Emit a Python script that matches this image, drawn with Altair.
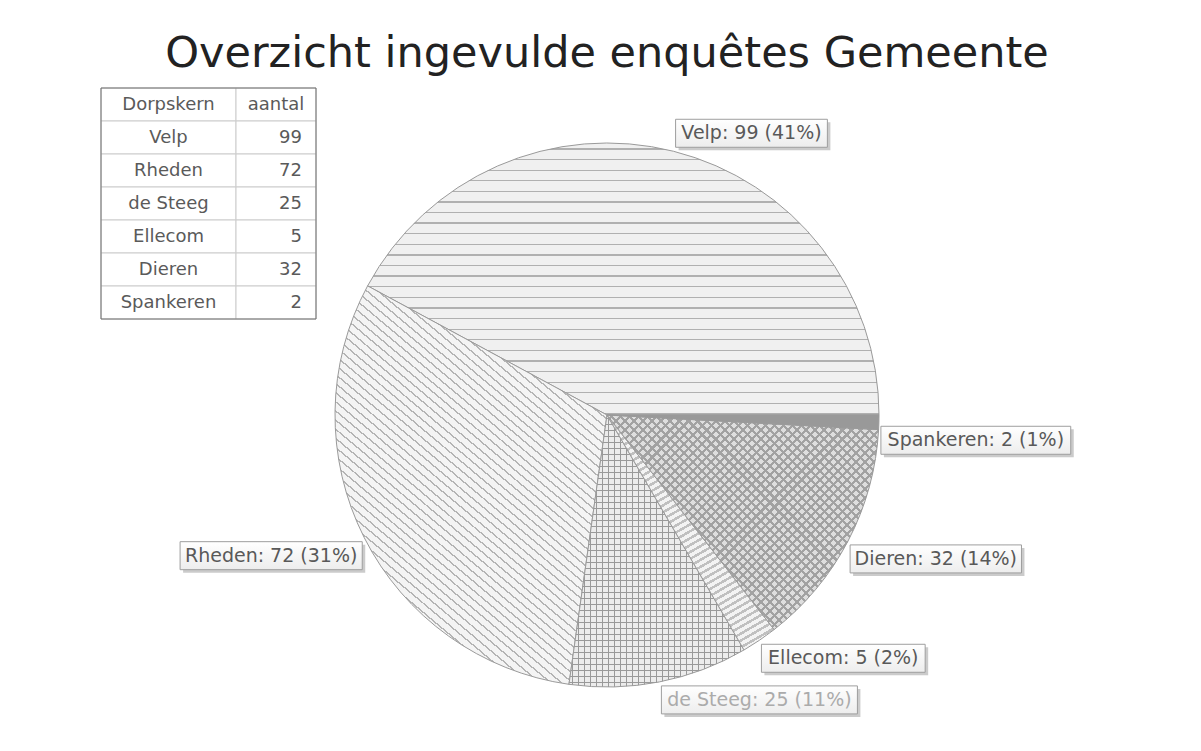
import math
import altair as alt
import pandas as pd

# ---------------- data ----------------
names = ["Velp", "Rheden", "de Steeg", "Ellecom", "Dieren", "Spankeren"]
values = [99, 72, 25, 5, 32, 2]
percents = [41, 31, 11, 2, 14, 1]
table_header = ["Dorpskern", "aantal"]
title_text = "Overzicht ingevulde enquêtes Gemeente"

# ---------------- layout ----------------
W, H = 1170, 654          # plot area (centre of the pie is its centre)
PAD_L, PAD_T = 14, 80
R = 272                   # pie radius in px
FONT = "DejaVu Sans"
LABEL_FS = 19
TABLE_FS = 18
# table geometry, in px relative to the pie centre (y up)
TL, TS, TR, TTOP, RH = -506, -371, -291, 327, 33

total = sum(values)
df = pd.DataFrame({"name": names, "value": values, "pct": percents,
                   "idx": list(range(len(names)))})

xs = alt.Scale(domain=[-W / 2, W / 2], nice=False, zero=False)
ys = alt.Scale(domain=[-H / 2, H / 2], nice=False, zero=False)
theta_scale = alt.Scale(domain=[0, total], range=[math.pi / 2, math.pi / 2 - 2 * math.pi])


# ------------- hatch patterns as striped gradients -------------
def sector_bbox(a0, a1):
    pts = [(0.0, 0.0), (R * math.cos(a0), -R * math.sin(a0)), (R * math.cos(a1), -R * math.sin(a1))]
    for k in range(5):
        a = k * math.pi / 2
        if a0 < a < a1:
            pts.append((R * math.cos(a), -R * math.sin(a)))
    xs_ = [p[0] for p in pts]
    ys_ = [p[1] for p in pts]
    return max(xs_) - min(xs_), max(ys_) - min(ys_)


def stripes(w, h, line_angle, spacing, lw, fg, bg):
    t = math.radians(line_angle)
    nx, ny = -math.sin(t), math.cos(t)
    S = abs(nx) * w + abs(ny) * h
    k = S / (nx * nx * w * w + ny * ny * h * h)
    u1 = 0.0 if nx >= 0 else 1.0
    v1 = 0.0 if ny >= 0 else 1.0
    stops = [{"offset": 0, "color": bg}]
    j = 0
    while True:
        a = (j * spacing + spacing / 2) / S
        b = a + lw / S
        if b >= 1:
            break
        stops += [{"offset": round(a, 5), "color": bg}, {"offset": round(a, 5), "color": fg},
                  {"offset": round(b, 5), "color": fg}, {"offset": round(b, 5), "color": bg}]
        j += 1
    stops.append({"offset": 1, "color": bg})
    return {"gradient": "linear", "x1": u1, "y1": v1,
            "x2": u1 + k * nx * w, "y2": v1 + k * ny * h, "stops": stops}


cum = 0
bbox = {}
for n, v in zip(names, values):
    a0 = 2 * math.pi * cum / total
    cum += v
    a1 = 2 * math.pi * cum / total
    bbox[n] = sector_bbox(a0, a1)

CLEAR = "rgba(255,255,255,0)"
patterns = {
    "Velp": [stripes(*bbox["Velp"], 0, 10.6, 1.3, "#b0b0b0", "#f0f0f0")],
    "Rheden": [stripes(*bbox["Rheden"], 40, 7, 1.4, "#b4b4b4", "#f4f4f4")],
    "de Steeg": [stripes(*bbox["de Steeg"], 0, 6, 1.1, "#999999", "#ececec"),
                 stripes(*bbox["de Steeg"], 90, 6, 1.1, "#999999", CLEAR)],
    "Ellecom": [stripes(*bbox["Ellecom"], -30, 6, 2.5, "#c0c0c0", "#f3f3f3")],
    "Dieren": [stripes(*bbox["Dieren"], 45, 6.4, 2.2, "#a2a2a2", "#dedede"),
               stripes(*bbox["Dieren"], -45, 6.4, 2.2, "#a2a2a2", CLEAR)],
    "Spankeren": ["#999999"],
}

slices = alt.Chart(df).transform_window(
    cum="sum(value)", sort=[alt.SortField("idx")], frame=[None, 0]
).transform_calculate(start="datum.cum - datum.value")

arc_layers = []
for n in names:
    for i, fill in enumerate(patterns[n]):
        kw = dict(radius=R, fill=fill)
        if i == len(patterns[n]) - 1:
            kw.update(stroke="#9a9a9a", strokeWidth=1)
        arc_layers.append(
            slices.transform_filter(alt.datum.name == n).mark_arc(**kw).encode(
                theta=alt.Theta("start:Q", scale=theta_scale),
                theta2="cum:Q",
            )
        )


# ---------------- slice labels ----------------
def cnt(p):
    return f"(length(datum.label) - length(replace(datum.label, regexp('{p}', 'g'), '')))"


tw = (f"{LABEL_FS}*(0.625*length(datum.label) - 0.347*{cnt('[il]')} - 0.30*{cnt('[: ]')}"
      f" - 0.235*{cnt('[()]')} + 0.325*{cnt('%')} - 0.22*{cnt('[tr]')} + 0.35*{cnt('m')})")

labels = alt.Chart(df).transform_window(
    cum="sum(value)", sort=[alt.SortField("idx")], frame=[None, 0]
).transform_joinaggregate(total="sum(value)").transform_calculate(
    label="datum.name + ': ' + datum.value + ' (' + datum.pct + '%)'",
    mid="2*PI*(datum.cum - datum.value/2)/datum.total",
    ax=f"{R}*cos(datum.mid)",
    ay=f"{R}*sin(datum.mid)",
    sx="cos(datum.mid) < 0 ? -1 : 1",
    sy="sin(datum.mid) < 0 ? -1 : 1",
    tw=tw,
    bx1="datum.ax + datum.sx*2",
    bx2="datum.bx1 + datum.sx*(datum.tw + 12)",
    by1="datum.ay + datum.sy*4",
    by2="datum.by1 + datum.sy*28",
    tx="(datum.bx1 + datum.bx2)/2",
    ty="(datum.by1 + datum.by2)/2",
)

box_enc = dict(
    x=alt.X("bx1:Q", scale=xs, axis=None), x2="bx2:Q",
    y=alt.Y("by1:Q", scale=ys, axis=None), y2="by2:Q",
)
shadow = labels.mark_rect(fill="#8c8c8c", opacity=0.45, xOffset=3, x2Offset=3,
                          yOffset=3, y2Offset=3).encode(**box_enc)
box_fill = {"gradient": "linear", "x1": 0, "y1": 0, "x2": 0, "y2": 1,
            "stops": [{"offset": 0, "color": "#ffffff"}, {"offset": 1, "color": "#ededed"}]}
box = labels.mark_rect(fill=box_fill, stroke="#9e9e9e", strokeWidth=1).encode(**box_enc)
label_text = labels.mark_text(font=FONT, fontSize=LABEL_FS, align="center", baseline="middle").encode(
    x=alt.X("tx:Q", scale=xs, axis=None),
    y=alt.Y("ty:Q", scale=ys, axis=None),
    text="label:N",
    color=alt.condition(alt.datum.name == "de Steeg", alt.value("#ababab"), alt.value("#595959")),
)

# ---------------- table ----------------
tdf = pd.DataFrame({
    "c1": [table_header[0]] + names,
    "c2": [table_header[1]] + [str(v) for v in values],
    "row": list(range(len(names) + 1)),
})
tbase = alt.Chart(tdf).transform_calculate(
    xl=str(TL), xm=str(TS), xr=str(TR),
    yt=f"{TTOP} - datum.row*{RH}",
    yb=f"{TTOP} - (datum.row + 1)*{RH}",
    ym=f"{TTOP} - (datum.row + 0.5)*{RH}",
    c1x=f"({TL} + {TS})/2",
    c2x=f"({TS} + {TR})/2",
    c2r=f"{TR} - 14",
)
cell1 = tbase.mark_rect(fill="white", stroke="#cccccc", strokeWidth=1).encode(
    x=alt.X("xl:Q", scale=xs, axis=None), x2="xm:Q",
    y=alt.Y("yt:Q", scale=ys, axis=None), y2="yb:Q")
cell2 = tbase.mark_rect(fill="white", stroke="#cccccc", strokeWidth=1).encode(
    x=alt.X("xm:Q", scale=xs, axis=None), x2="xr:Q",
    y=alt.Y("yt:Q", scale=ys, axis=None), y2="yb:Q")
border = tbase.transform_aggregate(n="count()", xl="min(xl)", xr="max(xr)").transform_calculate(
    yt=str(TTOP), yb=f"{TTOP} - datum.n*{RH}"
).mark_rect(fill="transparent", stroke="#6e6e6e", strokeWidth=1).encode(
    x=alt.X("xl:Q", scale=xs, axis=None), x2="xr:Q",
    y=alt.Y("yt:Q", scale=ys, axis=None), y2="yb:Q")
ttext = dict(font=FONT, fontSize=TABLE_FS, color="#5a5a5a", baseline="middle")
col1 = tbase.mark_text(align="center", **ttext).encode(
    x=alt.X("c1x:Q", scale=xs, axis=None), y=alt.Y("ym:Q", scale=ys, axis=None), text="c1:N")
col2h = tbase.transform_filter("datum.row == 0").mark_text(align="center", **ttext).encode(
    x=alt.X("c2x:Q", scale=xs, axis=None), y=alt.Y("ym:Q", scale=ys, axis=None), text="c2:N")
col2v = tbase.transform_filter("datum.row > 0").mark_text(align="right", **ttext).encode(
    x=alt.X("c2r:Q", scale=xs, axis=None), y=alt.Y("ym:Q", scale=ys, axis=None), text="c2:N")

chart = alt.layer(
    *arc_layers, shadow, box, label_text, cell1, cell2, border, col1, col2h, col2v
).properties(
    width=W, height=H,
    title=alt.Title(title_text, font=FONT, fontSize=43, fontWeight="normal", color="#222222",
                    anchor="middle", baseline="alphabetic", offset=22, dy=44),
    padding={"left": PAD_L, "top": PAD_T, "right": 0, "bottom": 0},
    autosize=alt.AutoSizeParams(type="none"),
    background="white",
).configure_view(strokeWidth=0)

chart.save("out.html", embed_options={"renderer": "svg", "actions": False})
